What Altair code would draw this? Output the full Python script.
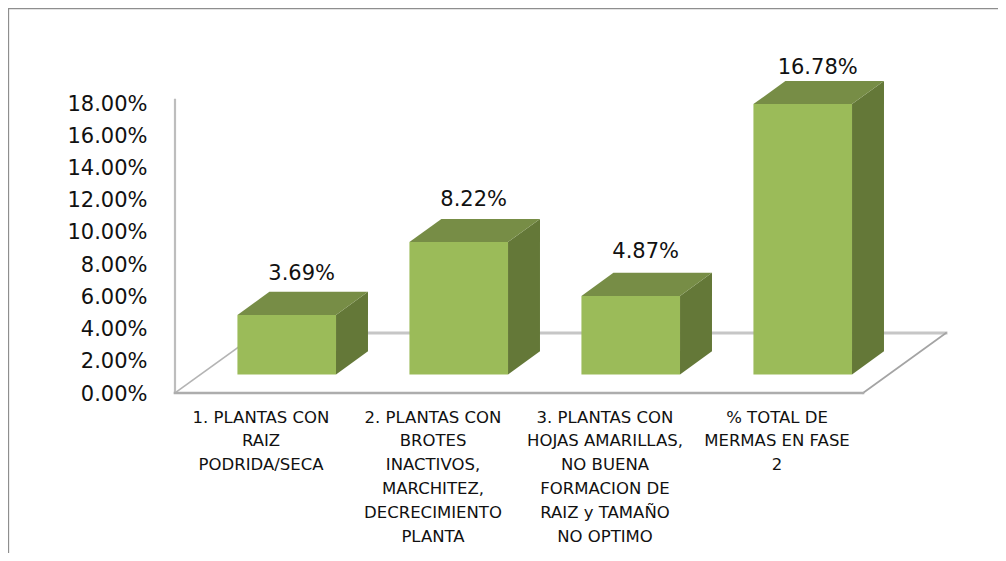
import altair as alt
import pandas as pd

categories = [
    "1. PLANTAS CON\nRAIZ\nPODRIDA/SECA",
    "2. PLANTAS CON\nBROTES\nINACTIVOS,\nMARCHITEZ,\nDECRECIMIENTO\nPLANTA",
    "3. PLANTAS CON\nHOJAS AMARILLAS,\nNO BUENA\nFORMACION DE\nRAIZ y TAMAÑO\nNO OPTIMO",
    "% TOTAL DE\nMERMAS EN FASE\n2",
]
values = [3.69, 8.22, 4.87, 16.78]
value_labels = ["3.69%", "8.22%", "4.87%", "16.78%"]
tick_values = [0, 2, 4, 6, 8, 10, 12, 14, 16, 18]

# layout of the oblique projection (in data units)
W, H = 990, 545
PX_U, PX_V = 172.0, 16.11
ORIGIN_X, ORIGIN_Y = 167.0, 385.0
DX, DY = 83 / PX_U, 60 / PX_V
D0, D1 = 0.31, 0.695
HALF = 49.3 / PX_U
WALL_TOP = 18.2
LABEL_LIFT = [1.12, 1.18, 1.28, 0.82]

FONT = "DejaVu Sans"
FRONT, TOP, SIDE = "#9BBB59", "#778D46", "#647838"

x_scale = alt.Scale(domain=[-ORIGIN_X / PX_U, (W - ORIGIN_X) / PX_U], range=[0, W], nice=False, zero=False)
y_scale = alt.Scale(domain=[(ORIGIN_Y - H) / PX_V, ORIGIN_Y / PX_V], range=[H, 0], nice=False, zero=False)
y_axis = alt.Axis(
    values=tick_values, labelExpr="format(datum.value, '.2f') + '%'",
    orient="left", offset=-139, domain=False, ticks=False, grid=False, title=None,
    labelFont=FONT, labelFontSize=21, labelColor="#111111", labelPadding=0,
    labelOffset=1, labelOverlap=False, labelFlush=False)
X = alt.X("x:Q", scale=x_scale, axis=None)
Y = alt.Y("y:Q", scale=y_scale, axis=y_axis)
Y2 = alt.Y2("y2:Q")

# floor and wall edges
edges = []
def edge(name, color, size, pts):
    for (x, y) in pts:
        edges.append(dict(edge=name, color=color, size=size, x=x, y=y))
edge("back", "#c6c6c6", 3, [(DX, DY), (4 + DX, DY)])
edge("left", "#b4b4b4", 1.6, [(0, 0), (DX, DY)])
edge("right", "#a4a4a4", 1.7, [(4, 0), (4 + DX, DY)])
edge("wall", "#bdbdbd", 2.2, [(0, 0), (0, WALL_TOP)])
edge("front", "#adadad", 2.6, [(0, 0), (4, 0)])

front, top, side, labels, cats = [], [], [], [], []
for i, (c, v, t) in enumerate(zip(categories, values, value_labels)):
    xl, xr = i + 0.5 - HALF, i + 0.5 + HALF
    x0, x1 = D0 * DX, D1 * DX
    y0, y1 = D0 * DY, D1 * DY
    front.append(dict(x=xl + x0, x2=xr + x0, y=v + y0, y2=y0))
    top += [
        dict(b=i, x=xl + x0, y=v + y0, y2=v + y0),
        dict(b=i, x=xl + x1, y=v + y1, y2=v + y0),
        dict(b=i, x=xr + x0, y=v + y1, y2=v + y0),
        dict(b=i, x=xr + x1, y=v + y1, y2=v + y1),
    ]
    side += [
        dict(b=i, x=xr + x0, y=v + y0, y2=y0),
        dict(b=i, x=xr + x1, y=v + y1, y2=y1),
    ]
    labels.append(dict(x=i + 0.5 + (x0 + x1) / 2 - 0.006, y=v + y1 + LABEL_LIFT[i], t=t))
    cats.append(dict(x=i + 0.5, y=-1.03, t=c))

frame = pd.DataFrame({"a": [0]})
frame_top = alt.Chart(frame).mark_rule(color="#8e8e8e", strokeWidth=1.6).encode(
    x=alt.value(0), x2=alt.value(W), y=alt.value(0.4))
frame_left = alt.Chart(frame).mark_rule(color="#8e8e8e", strokeWidth=1.5).encode(
    x=alt.value(0.4), y=alt.value(0), y2=alt.value(H))

edge_layer = alt.Chart(pd.DataFrame(edges)).mark_line(strokeCap="square").encode(
    x=X, y=Y, detail="edge:N",
    color=alt.Color("color:N", scale=None),
    strokeWidth=alt.StrokeWidth("size:Q", scale=None),
)
side_layer = alt.Chart(pd.DataFrame(side)).mark_area(color=SIDE, interpolate="linear").encode(
    x=X, y=Y, y2=Y2, detail="b:N")
top_layer = alt.Chart(pd.DataFrame(top)).mark_area(color=TOP, interpolate="linear").encode(
    x=X, y=Y, y2=Y2, detail="b:N")
front_layer = alt.Chart(pd.DataFrame(front)).mark_rect(color=FRONT).encode(
    x=X, x2="x2:Q", y=Y, y2=Y2)
value_layer = alt.Chart(pd.DataFrame(labels)).mark_text(
    font=FONT, fontSize=21, color="#111111", align="center", baseline="middle").encode(
    x=X, y=Y, text="t:N")
cat_layer = alt.Chart(pd.DataFrame(cats)).mark_text(
    font=FONT, fontSize=16.5, color="#111111", align="center", baseline="top",
    lineBreak="\n", lineHeight=23.8).encode(
    x=X, y=Y, text="t:N")

chart = alt.layer(
    frame_top, frame_left, edge_layer, side_layer, top_layer,
    front_layer, value_layer, cat_layer,
).properties(
    width=W, height=H, padding=0, autosize=alt.AutoSizeParams(type="none"),
    background="white",
).configure_view(stroke=None)

chart.save("out.html", embed_options={"renderer": "svg", "actions": False})
